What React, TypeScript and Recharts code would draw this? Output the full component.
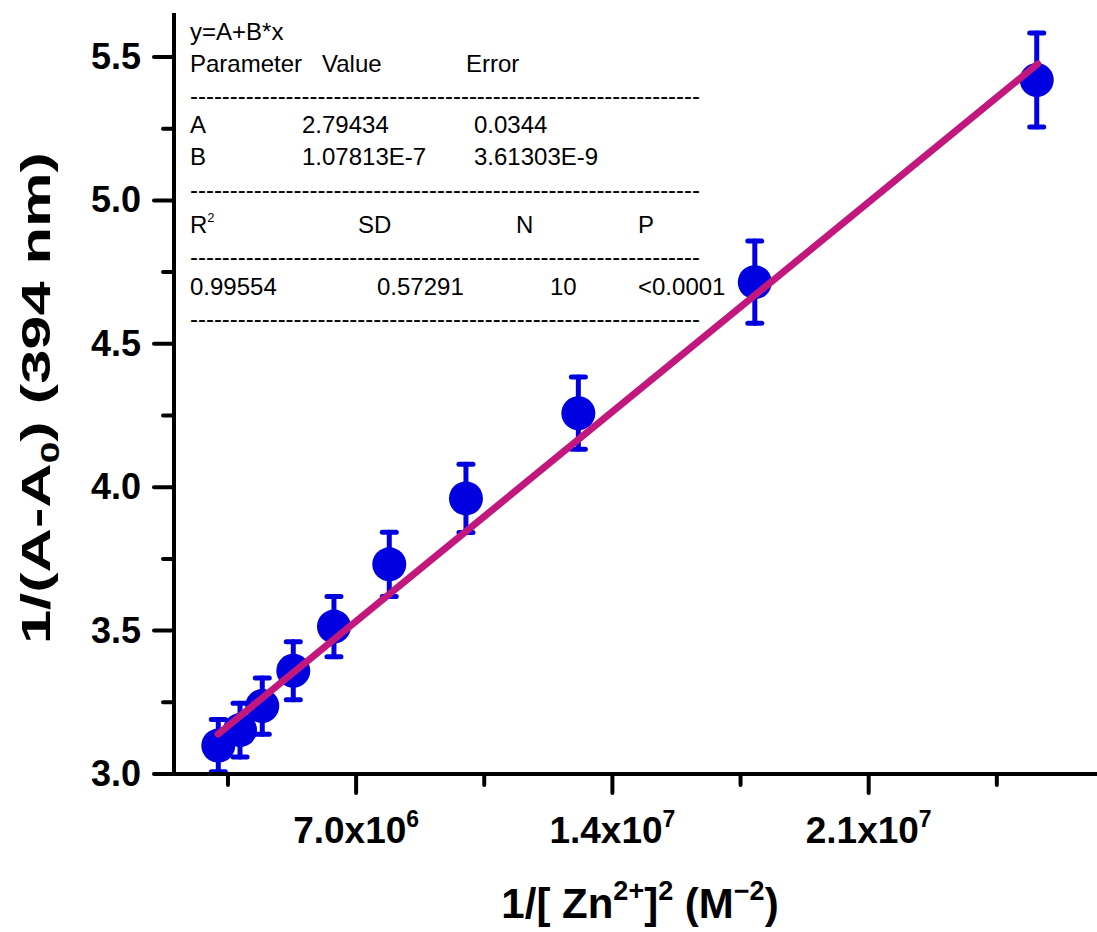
import React from 'react';
import { ComposedChart, Scatter, XAxis, YAxis, ErrorBar } from 'recharts';

// Data
const xValues = [3.236e6, 3.829e6, 4.437e6, 5.284e6, 6.395e6, 7.906e6, 10.0e6, 13.07e6, 17.89e6, 25.59e6];
const yValues = [3.099, 3.153, 3.237, 3.36, 3.514, 3.731, 3.961, 4.258, 4.715, 5.42];
const yErrors = [0.091, 0.094, 0.098, 0.101, 0.105, 0.112, 0.119, 0.126, 0.143, 0.164];
const fitX = [3.23e6, 25.62e6];
const fitY = [3.139, 5.476];

const xMajorTicks = [7.0e6, 1.4e7, 2.1e7];
const xMinorTicks = [3.5e6, 1.05e7, 1.75e7, 2.45e7];
const xTickMantissa = ['7.0', '1.4', '2.1'];
const xTickExponent = ['6', '7', '7'];
const yMajorTicks = [3.0, 3.5, 4.0, 4.5, 5.0, 5.5];
const yMinorTicks = [3.25, 3.75, 4.25, 4.75, 5.25];
const yTickLabels = ['3.0', '3.5', '4.0', '4.5', '5.0', '5.5'];

const X_DOMAIN: [number, number] = [2.026e6, 27.4e6];
const Y_DOMAIN: [number, number] = [3.0, 5.6534];

const BLUE = '#0000E0';
const MAGENTA = '#C2187E';
const FONT = '"Liberation Sans", Arial, Helvetica, sans-serif';

const pointData = xValues.map((x, i) => ({ x, y: yValues[i], err: yErrors[i] }));
const fitData = fitX.map((x, i) => ({ x, y: fitY[i] }));

const XTick = (props: any) => {
  const { x, y, payload } = props;
  const v = payload.value;
  const idx = xMajorTicks.indexOf(v);
  const major = idx >= 0;
  return (
    <g>
      <line x1={x} x2={x} y1={y} y2={y + (major ? 19 : 11)} stroke="#000" strokeWidth={4} strokeLinecap="round" />
      {major && (
        <text x={x} y={y + 69} textAnchor="middle" fontSize={37} fontWeight="bold" fontFamily={FONT} fill="#000">
          {xTickMantissa[idx]}x10
          <tspan dy={-16} fontSize={23}>{xTickExponent[idx]}</tspan>
        </text>
      )}
    </g>
  );
};

const YTick = (props: any) => {
  const { x, y, payload } = props;
  const v = payload.value;
  const idx = yMajorTicks.indexOf(v);
  const major = idx >= 0;
  return (
    <g>
      <line x1={x} x2={x - (major ? 20 : 11)} y1={y} y2={y} stroke="#000" strokeWidth={4} strokeLinecap="round" />
      {major && (
        <text x={x - 33} y={y + 12} textAnchor="end" fontSize={36} fontWeight="bold" fontFamily={FONT} fill="#000">
          {yTickLabels[idx]}
        </text>
      )}
    </g>
  );
};

const Dot = (props: any) => <circle cx={props.cx} cy={props.cy} r={17} fill={BLUE} />;
const NoShape = () => <g />;

const dashes = '-'.repeat(64);

const tableRows = [
  { y: 40, items: [{ x: 190, t: 'y=A+B*x' }] },
  { y: 72, items: [{ x: 190, t: 'Parameter' }, { x: 322, t: 'Value' }, { x: 466, t: 'Error' }] },
  { y: 133, items: [{ x: 190, t: 'A' }, { x: 302, t: '2.79434' }, { x: 474, t: '0.0344' }] },
  { y: 165, items: [{ x: 190, t: 'B' }, { x: 302, t: '1.07813E-7' }, { x: 474, t: '3.61303E-9' }] },
  { y: 233, items: [{ x: 358, t: 'SD' }, { x: 516, t: 'N' }, { x: 638, t: 'P' }] },
  { y: 295, items: [{ x: 190, t: '0.99554' }, { x: 377, t: '0.57291' }, { x: 550, t: '10' }, { x: 638, t: '<0.0001' }] },
];
const dashRowsY = [104, 198, 265, 327];

export default function App() {
  return (
    <div style={{ position: 'absolute', left: 0, top: 0, width: 1097, height: 932, overflow: 'hidden', background: '#fff' }}>
      <ComposedChart width={1105} height={932} margin={{ top: 13, right: 2, bottom: 0, left: 0 }}>
        <XAxis
          dataKey="x"
          type="number"
          domain={X_DOMAIN}
          allowDataOverflow
          ticks={[...xMinorTicks, ...xMajorTicks].sort((a, b) => a - b)}
          interval={0}
          tick={<XTick />}
          tickLine={false}
          tickSize={0}
          tickMargin={0}
          height={158}
          axisLine={{ stroke: '#000', strokeWidth: 4 }}
        />
        <XAxis
          xAxisId="top"
          orientation="top"
          type="number"
          domain={X_DOMAIN}
          allowDataOverflow
          tick={false}
          tickLine={false}
          height={0}
          axisLine={{ stroke: '#000', strokeWidth: 4 }}
        />
        <YAxis
          dataKey="y"
          type="number"
          domain={Y_DOMAIN}
          allowDataOverflow
          ticks={[...yMinorTicks, ...yMajorTicks].sort((a, b) => a - b)}
          interval={0}
          tick={<YTick />}
          tickLine={false}
          tickSize={0}
          tickMargin={0}
          width={174}
          axisLine={{ stroke: '#000', strokeWidth: 4 }}
        />
        <Scatter data={pointData} shape={<Dot />} isAnimationActive={false}>
          <ErrorBar dataKey="err" direction="y" width={7} stroke={BLUE} strokeWidth={5} strokeLinecap="round" isAnimationActive={false} />
        </Scatter>
        <Scatter
          data={fitData}
          line={{ stroke: MAGENTA, strokeWidth: 7, strokeLinecap: 'round' }}
          shape={<NoShape />}
          isAnimationActive={false}
        />
      </ComposedChart>
      <svg width={1097} height={932} style={{ position: 'absolute', left: 0, top: 0, pointerEvents: 'none' }}>
        <g fontFamily={FONT} fontSize={24} fill="#000">
          {tableRows.map((row, ri) =>
            row.items.map((it, ii) => (
              <text key={`${ri}-${ii}`} x={it.x} y={row.y}>
                {it.t}
              </text>
            ))
          )}
          <text x={190} y={233}>
            R<tspan dy={-11} fontSize={13}>2</tspan>
          </text>
          {dashRowsY.map((y, i) => (
            <text key={`d${i}`} x={190} y={y} textLength={510} lengthAdjust="spacing">
              {dashes}
            </text>
          ))}
        </g>
        <text
          transform="translate(50, 398) rotate(-90)"
          textAnchor="middle"
          fontFamily={FONT}
          fontWeight="bold"
          fontSize={41}
          fill="#000"
          textLength={492}
          lengthAdjust="spacingAndGlyphs"
        >
          1/(A-A<tspan dy={9} fontSize={26}>0</tspan>
          <tspan dy={-9}>) (394 nm)</tspan>
        </text>
        <text x={640} y={918} textAnchor="middle" fontFamily={FONT} fontWeight="bold" fontSize={42} fill="#000">
          1/[ Zn<tspan dy={-18} fontSize={27}>2+</tspan>
          <tspan dy={18}>]</tspan>
          <tspan dy={-18} fontSize={27}>2</tspan>
          <tspan dy={18}> (M</tspan>
          <tspan dy={-18} fontSize={27}>−2</tspan>
          <tspan dy={18}>)</tspan>
        </text>
      </svg>
    </div>
  );
}
